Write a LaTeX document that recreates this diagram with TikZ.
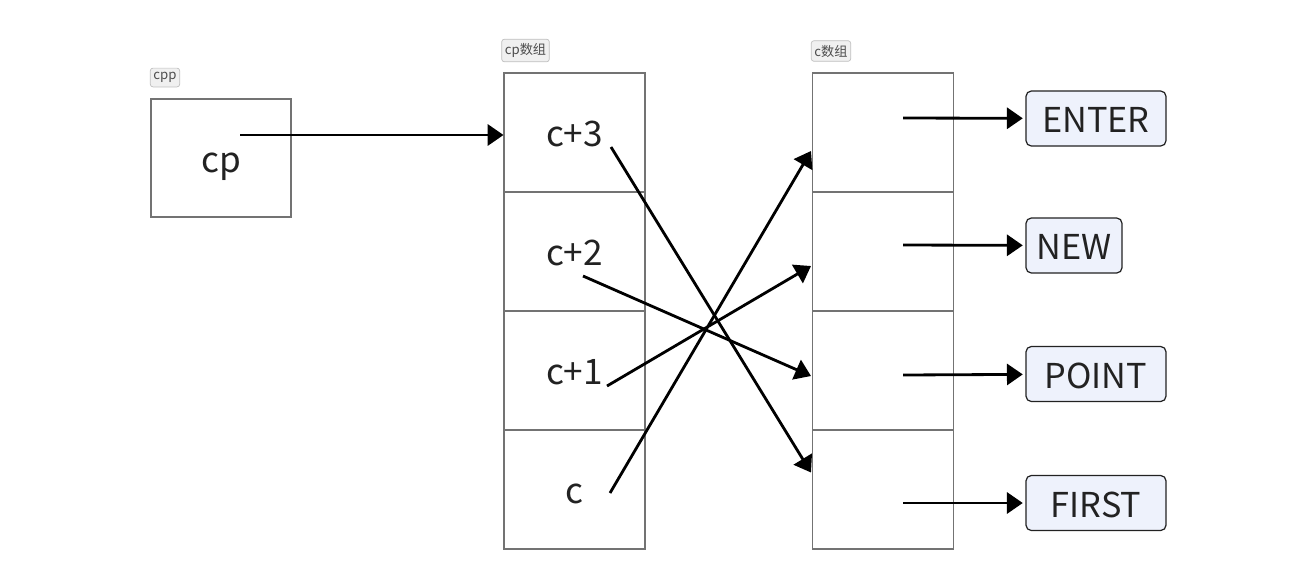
\documentclass[tikz,border=0pt]{standalone}
\usepackage{fontspec}
\setmainfont{Noto Sans CJK SC}
\usetikzlibrary{arrows.meta,calc}
\definecolor{strfill}{HTML}{EEF2FC}
\definecolor{inkdark}{HTML}{222222}

\begin{document}
\begin{tikzpicture}[x=0.02cm, y=-0.02cm, >={Triangle[length=9pt,width=12pt]}]
  % ============================================================
  % units: 1 = one pixel of the 1311 x 566 frame, y grows downward
  % ============================================================
  \tikzset{
    cell/.style={draw=black!55, line width=0.6pt, minimum width=2.82cm,
                 minimum height=2.38cm, inner sep=0pt,
                 text height=16.4pt, text depth=0pt,
                 font=\fontsize{20}{24}\selectfont, text=inkdark},
    tag/.style={draw=black!25, fill=black!6, rounded corners=1.5pt,
                inner xsep=1.8pt, inner ysep=2.4pt,
                font=\fontsize{7.5}{8}\selectfont, text=black!70},
    strbox/.style={draw=inkdark, fill=strfill, line width=0.7pt, rounded corners=3pt,
                   minimum height=1.1cm, inner sep=0pt,
                   text height=16.4pt, text depth=0pt,
                   font=\fontsize{19.5}{24}\selectfont, text=inkdark},
    link/.style={->, line width=1.6pt, black}
  }
  \useasboundingbox (0,0) rectangle (1311,566);

  % 1. cpp box
  \node[tag] (cpptag) at (165,77.5) {cpp};
  \node[cell, minimum width=2.8cm, minimum height=2.36cm] (cpbox) at (221,158) {cp};

  % 2. cp array and c array
  \node[tag] (cptag) at (525.5,50.5) {cp数组};
  \node[tag] (ctag) at (831,51) {c数组};
  \foreach \lab [count=\i] in {c+3, c+2, c+1, c} {
    \node[cell] (p\i) at (574.5,13.5+119*\i) {\lab};
    \node[cell] (q\i) at (883,13.5+119*\i) {};
  }

  % 3. strings
  \node[strbox, minimum width=2.8cm]  (enter) at (1096,118.5) {ENTER};
  \node[strbox, minimum width=1.92cm] (new)   at (1074,245.5) {NEW};
  \node[strbox, minimum width=2.8cm]  (point) at (1096,374)   {POINT};
  \node[strbox, minimum width=2.8cm]  (first) at (1096,503)   {FIRST};

  % 4. c array -> strings
  \coordinate (s1) at (903,118);
  \coordinate (s2) at (903,245);
  \coordinate (s3) at (903,375);
  \coordinate (s4) at (903,503);
  \draw[link, shorten >=1.5pt] (s1) -- (enter);
  \draw[link, shorten >=1.5pt] (s2) -- (new);
  \draw[link, shorten >=1.5pt] (s3) -- (point);
  \draw[link, shorten >=1.5pt] (s4) -- (first);

  % 5. cp -> cp array
  \coordinate (cpout) at (240,135);
  \draw[link] (cpout) -- (cpout -| p1.west);

  % 6. cp array -> c array (crossing)
  \coordinate (a1) at (611,147);
  \coordinate (a2) at (583,276);
  \coordinate (a3) at (607,386);
  \coordinate (a4) at (610,493);
  \coordinate (t4) at ($(q4.west)+(-1,-17)$);
  \coordinate (t3) at ($(q3.west)+(-1,5.5)$);
  \coordinate (t2) at ($(q2.west)+(-1,14.5)$);
  \coordinate (t1) at ($(q1.west)+(-1,18.5)$);
  \draw[link] (a1) -- (t4);
  \draw[link] (a2) -- (t3);
  \draw[link] (a3) -- (t2);
  \draw[link] (a4) -- (t1);
\end{tikzpicture}
\end{document}
